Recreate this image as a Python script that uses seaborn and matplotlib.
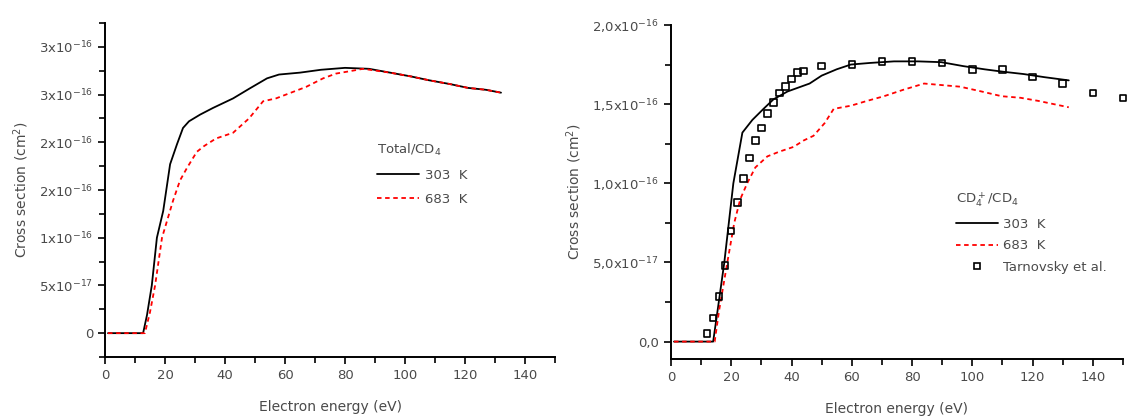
import numpy as np
import pandas as pd
import seaborn as sns
import matplotlib
matplotlib.use("Agg")
import matplotlib.pyplot as plt
from matplotlib.ticker import FixedLocator, FixedFormatter, NullFormatter
from matplotlib.lines import Line2D

# values in units of 1e-16 cm^2
left_e_303 = [1, 12.7, 14, 15.6, 17.3, 19.4, 21.7, 24, 26, 28, 31.7, 36, 42.7, 48, 54, 58,
              65, 72, 80, 88, 95, 102, 108, 115, 121, 127, 132]
left_303 = [0, 0, 0.19, 0.5, 1.0, 1.28, 1.77, 1.98, 2.15, 2.22, 2.29, 2.36, 2.46, 2.56, 2.67, 2.71,
            2.73, 2.76, 2.78, 2.77, 2.73, 2.69, 2.65, 2.61, 2.57, 2.55, 2.52]
left_e_683 = [1, 13.3, 15, 16.7, 19, 22.7, 25, 27.3, 30.6, 33, 37, 42.7, 48, 52.7, 57, 62, 67,
              72.7, 77, 80.7, 86, 95, 102, 108, 115, 121, 127, 132]
left_683 = [0, 0, 0.22, 0.5, 1.0, 1.39, 1.6, 1.73, 1.9, 1.96, 2.04, 2.1, 2.25, 2.43, 2.46, 2.52, 2.58,
            2.67, 2.72, 2.74, 2.77, 2.73, 2.69, 2.65, 2.61, 2.57, 2.55, 2.52]

right_e_303 = [1, 14, 15.5, 17.7, 20.7, 23.7, 27, 30.7, 34, 38.7, 46, 50, 55, 59.7, 66, 74, 82,
               89.7, 97, 104, 110, 117, 124, 132]
right_303 = [0, 0, 0.2, 0.5, 1.0, 1.32, 1.4, 1.47, 1.53, 1.58, 1.63, 1.68, 1.72, 1.75, 1.76, 1.77, 1.77,
             1.765, 1.74, 1.72, 1.705, 1.69, 1.67, 1.65]
right_e_683 = [1, 14.5, 16, 18.7, 21, 23, 25.3, 28, 32, 36, 40.7, 44, 47.3, 51, 54, 59.7, 65, 70.7,
               77, 84, 90, 96, 103, 109.7, 116, 122, 127, 132]
right_683 = [0, 0, 0.2, 0.5, 0.75, 0.9, 1.0, 1.1, 1.17, 1.2, 1.23, 1.27, 1.30, 1.38, 1.47, 1.49, 1.52, 1.55,
             1.59, 1.63, 1.62, 1.61, 1.58, 1.55, 1.54, 1.52, 1.50, 1.48]

tarn_e = [12, 14, 16, 18, 20, 22, 24, 26, 28, 30, 32, 34, 36, 38, 40, 42, 44, 50, 60, 70, 80,
          90, 100, 110, 120, 130, 140, 150]
tarn = [0.05, 0.15, 0.285, 0.48, 0.70, 0.88, 1.03, 1.16, 1.27, 1.35, 1.44, 1.51, 1.57, 1.61, 1.66,
        1.70, 1.71, 1.74, 1.75, 1.77, 1.77, 1.76, 1.72, 1.72, 1.67, 1.63, 1.57, 1.54]

left_ticks = [0, 0.5, 1.0, 1.5, 2.0, 2.5, 3.0]
left_labels = ["0", "5x10$^{-17}$", "1x10$^{-16}$", "2x10$^{-16}$", "2x10$^{-16}$",
               "3x10$^{-16}$", "3x10$^{-16}$"]
right_ticks = [0, 0.5, 1.0, 1.5, 2.0]
right_labels = ["0,0", "5,0x10$^{-17}$", "1,0x10$^{-16}$", "1,5x10$^{-16}$", "2,0x10$^{-16}$"]
x_ticks = [0, 20, 40, 60, 80, 100, 120, 140]
x_labels = [str(t) for t in x_ticks]

sns.set_style("ticks")
plt.rcParams['font.family'] = ['DejaVu Sans']
plt.rcParams['mathtext.fontset'] = 'dejavusans'
txt = '#4a4a4a'
red_dash = (0, (2.5, 2))

fig = plt.figure(figsize=(11.29, 4.16), dpi=100)
ax1 = fig.add_axes([0.093, 0.1418, 0.3986, 0.8029])
ax2 = fig.add_axes([0.5943, 0.137, 0.4004, 0.803])


def style_axis(ax, ylim, yticks, ylabels):
    ax.set_xlim(0, 150)
    ax.set_ylim(*ylim)
    for s in ['top', 'right']:
        ax.spines[s].set_visible(False)
    for s in ['left', 'bottom']:
        ax.spines[s].set_linewidth(1.4)
        ax.spines[s].set_color('black')
    ax.xaxis.set_major_locator(FixedLocator(x_ticks))
    ax.xaxis.set_major_formatter(FixedFormatter(x_labels))
    ax.xaxis.set_minor_locator(FixedLocator([t + 10 for t in x_ticks]))
    ax.xaxis.set_minor_formatter(NullFormatter())
    ax.yaxis.set_major_locator(FixedLocator(yticks))
    ax.yaxis.set_major_formatter(FixedFormatter(ylabels))
    ax.yaxis.set_minor_locator(FixedLocator([t + 0.25 for t in yticks] + [yticks[0] - 0.25]))
    ax.yaxis.set_minor_formatter(NullFormatter())
    ax.tick_params(which='major', length=5, width=1.2, color='black', labelsize=9.5,
                   labelcolor=txt, direction='out')
    ax.tick_params(which='minor', length=4, width=1.2, color='black', direction='out')
    ax.set_xlabel('Electron energy (eV)', fontsize=10, color=txt, labelpad=13)
    ax.set_ylabel('Cross section (cm$^2$)', fontsize=10, color=txt, labelpad=6)


sns.lineplot(x=left_e_303, y=left_303, ax=ax1, color='black', lw=1.3, estimator=None, sort=False)
sns.lineplot(x=left_e_683, y=left_683, ax=ax1, color='red', lw=1.3, linestyle=red_dash,
             estimator=None, sort=False)
style_axis(ax1, (-0.25, 3.25), left_ticks, left_labels)

sns.lineplot(x=right_e_303, y=right_303, ax=ax2, color='black', lw=1.3, estimator=None, sort=False)
sns.lineplot(x=right_e_683, y=right_683, ax=ax2, color='red', lw=1.3, linestyle=red_dash,
             estimator=None, sort=False)
sns.scatterplot(x=tarn_e, y=tarn, ax=ax2, marker='s', s=22, facecolor='none', edgecolor='black',
                linewidth=1.2, clip_on=False, zorder=5)
style_axis(ax2, (-0.11, 2.0), right_ticks, right_labels)

h303 = Line2D([], [], color='black', lw=1.3)
h683 = Line2D([], [], color='red', lw=1.3, linestyle=red_dash)
htar = Line2D([], [], color='black', lw=0, marker='s', markersize=5, markerfacecolor='none',
              markeredgewidth=1.2)

leg_kw = dict(frameon=False, fontsize=9.5, title_fontsize=9.5, handlelength=3.2,
              handletextpad=0.4, alignment='left', loc='upper left',
              borderaxespad=0, borderpad=0, labelcolor=txt)
leg1 = ax1.legend([h303, h683], ['303  K', '683  K'], title='Total/CD$_4$',
                  bbox_to_anchor=(0.605, 0.645), labelspacing=0.85, **leg_kw)
leg1.get_title().set_color(txt)
leg2 = ax2.legend([h303, h683, htar], ['303  K', '683  K', 'Tarnovsky et al.'],
                  title='CD$_4^+$/CD$_4$', bbox_to_anchor=(0.63, 0.505), labelspacing=0.65,
                  **leg_kw)
leg2.get_title().set_color(txt)

fig.savefig('out.png', dpi=100)
